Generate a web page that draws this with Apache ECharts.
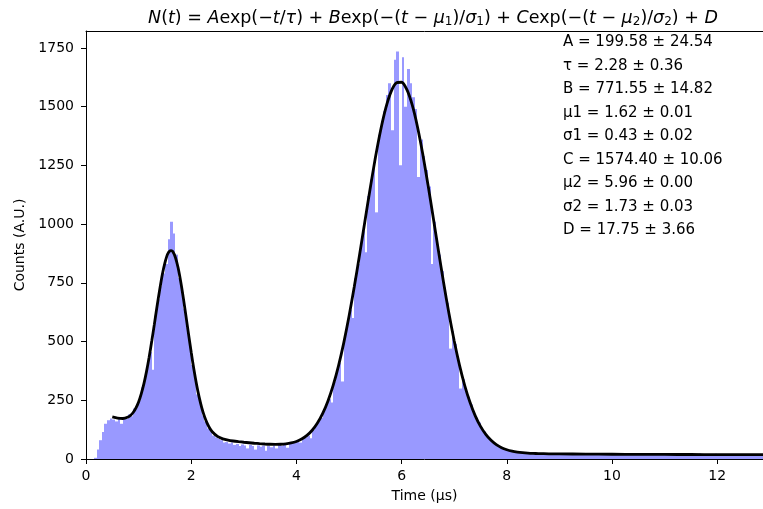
<!DOCTYPE html>
<html>
<head>
<meta charset="utf-8">
<script src="https://cdn.jsdelivr.net/npm/echarts@6/dist/echarts.min.js"></script>
<style>
html,body{margin:0;padding:0;background:#fff;}
#chart{width:763px;height:509px;}
</style>
</head>
<body>
<div id="chart"></div>
<script>
// ---- data ----
const binStart = 0;
const binWidth = 0.05;
const counts = [
0,0,0,5,40,80,115,150,165,172,
168,160,178,150,176,170,190,182,215,235,
250,305,340,395,455,380,610,680,735,790,
830,935,1010,960,870,770,720,640,560,480,
400,350,275,240,185,160,130,118,100,92,
85,80,70,72,66,70,60,64,55,62,
58,45,60,55,40,58,52,57,35,55,
50,58,45,60,55,62,48,66,70,68,
75,70,85,92,100,88,125,140,160,175,
200,230,255,240,330,370,410,330,515,575,
635,600,770,830,905,970,880,1120,1190,1250,
1050,1380,1440,1480,1550,1600,1400,1700,1735,1250,
1710,1500,1660,1600,1540,1490,1200,1360,1290,1230,
1160,830,1010,940,870,800,730,665,470,545,
490,435,300,340,300,265,232,200,176,155,
135,117,100,88,77,68,60,52,47,43,
38,36,32,30,28,27,26,24,25,23,
22,24,21,23,25,20,22,26,21,22,
21,23,20,22,19,24,21,20,22,21,
20,22,25,19,21,20,23,18,21,20,
21,19,22,20,26,20,19,21,18,20,
20,22,19,21,18,20,24,19,20,21,
19,20,18,21,19,22,18,20,19,21,
18,20,19,23,18,19,20,17,19,22,
19,18,20,18,21,19,17,20,18,19,
18,20,17,19,21,18,19,18
];
const fitT = [0.5,0.6,0.7,0.8,0.85,0.9,0.95,1.0,1.05,1.1,1.15,1.2,1.25,1.3,1.35,1.4,1.45,1.5,1.55,1.6,1.62,1.65,1.7,1.75,1.8,1.85,1.9,1.95,2.0,2.05,2.1,2.15,2.2,2.25,2.3,2.35,2.4,2.5,2.6,2.7,2.8,2.9,3.0,
3.1,3.2,3.3,3.4,3.5,3.6,3.7,3.8,3.9,4.0,4.1,4.2,4.3,4.4,4.5,4.6,4.7,4.8,4.9,5.0,5.1,5.2,5.3,5.4,5.5,5.6,5.7,5.8,5.9,6.0,
6.1,6.2,6.3,6.4,6.5,6.6,6.7,6.8,6.9,7.0,7.1,7.2,7.3,7.4,7.5,7.6,7.7,7.8,7.9,8.0,8.1,8.2,8.3,8.4,8.5,8.6,8.8,9.0,9.5,10,10.5,11,11.5,12,12.5,12.9];
const fitN = [179.0,174.0,172.5,178.6,186.5,198.9,217.4,242.9,277.4,319.8,371.9,432.9,502.0,574.1,649.2,719.7,784.8,835.0,871.7,886.6,887.0,882.9,857.8,815.0,756.0,686.0,609.4,530.7,454.2,382.8,319.1,264.4,218.9,182.4,153.9,132.2,116.2,96.2,85.9,80.3,76.6,73.8,71.3,
69.2,67.1,65.3,63.8,62.7,62.2,62.7,64.4,68.2,74.6,84.9,100.3,122.4,153.0,193.9,247.1,314.3,396.5,494.4,607.2,732.9,868.4,1009.0,1148.7,1281.1,1398.7,1494.9,1563.8,1600.9,1603.8,
1572.2,1508.1,1415.6,1300.2,1169.0,1028.9,886.8,748.3,619.0,502.1,399.7,312.8,241.3,183.8,138.9,104.9,79.6,61.3,48.3,39.4,33.4,29.4,26.7,24.9,23.8,23.1,22.2,21.7,20.9,20.3,19.8,19.4,19.1,18.8,18.6,18.4];
const xTicks = [0,2,4,6,8,10,12];
const yTicks = [0,250,500,750,1000,1250,1500,1750];
const fitLines = [
  'A = 199.58 \u00b1 24.54',
  '\u03c4 = 2.28 \u00b1 0.36',
  'B = 771.55 \u00b1 14.82',
  '\u03bc1 = 1.62 \u00b1 0.01',
  '\u03c31 = 0.43 \u00b1 0.02',
  'C = 1574.40 \u00b1 10.06',
  '\u03bc2 = 5.96 \u00b1 0.00',
  '\u03c32 = 1.73 \u00b1 0.03',
  'D = 17.75 \u00b1 3.66'
];
const xMax = 12.87, yMax = 1822;

// ---- chart ----
const FONT = 'DejaVu Sans';
const chart = echarts.init(document.getElementById('chart'), null, {renderer:'canvas'});
const histData = counts.map((c,i)=>[binStart+i*binWidth, binStart+(i+1)*binWidth, c]);
const fitData = fitT.map((t,i)=>[t, fitN[i]]);

const option = {
  animation:false,
  backgroundColor:'#ffffff',
  title:{
    text:'{i|N}({i|t}) = {i|A}exp(\u2212{i|t}/{i|\u03c4}) + {i|B}exp(\u2212({i|t} \u2212 {i|\u03bc}{s|1})/{i|\u03c3}{s|1}) + {i|C}exp(\u2212({i|t} \u2212 {i|\u03bc}{s|2})/{i|\u03c3}{s|2}) + {i|D}',
    left:428, top:3, textAlign:'center',
    textStyle:{fontFamily:FONT, fontSize:17.5, fontWeight:'normal', color:'#000',
      rich:{
        i:{fontFamily:FONT, fontStyle:'italic', fontSize:17.5, color:'#000'},
        s:{fontFamily:FONT, fontSize:12, color:'#000', padding:[8,0,0,0]}
      }}
  },
  grid:{left:86, right:0, top:31, bottom:50, show:false},
  xAxis:[{
    type:'value', min:0, max:xMax,
    name:'Time (\u03bcs)', nameLocation:'middle', nameGap:30,
    nameTextStyle:{fontFamily:FONT, fontSize:14, color:'#000'},
    axisLine:{show:true, onZero:false, lineStyle:{color:'#000', width:1}},
    axisTick:{show:true, length:5, inside:false, customValues:xTicks, lineStyle:{color:'#000'}},
    axisLabel:{customValues:xTicks, margin:10, fontFamily:FONT, fontSize:14, color:'#000', formatter:v=>String(v)},
    splitLine:{show:false}
  },{
    type:'value', min:0, max:xMax, position:'top',
    axisLine:{show:true, onZero:false, lineStyle:{color:'#000', width:1}},
    axisTick:{show:false}, axisLabel:{show:false}, splitLine:{show:false}
  }],
  yAxis:{
    type:'value', min:0, max:yMax,
    name:'Counts (A.U.)', nameLocation:'middle', nameGap:59, nameRotate:90,
    nameTextStyle:{fontFamily:FONT, fontSize:14, color:'#000'},
    axisLine:{show:true, onZero:false, lineStyle:{color:'#000', width:1}},
    axisTick:{show:true, length:5, inside:false, customValues:yTicks, lineStyle:{color:'#000'}},
    axisLabel:{customValues:yTicks, margin:12, fontFamily:FONT, fontSize:14, color:'#000', formatter:v=>String(v)},
    splitLine:{show:false}
  },
  series:[
    {
      type:'custom',
      data:histData,
      encode:{x:[0,1], y:2},
      clip:true,
      renderItem:function(params, api){
        const p0 = api.coord([api.value(0), api.value(2)]);
        const p1 = api.coord([api.value(1), 0]);
        const x0 = Math.round(p0[0]), x1 = Math.round(p1[0]);
        return {type:'rect', shape:{x:x0, y:p0[1], width:Math.max(1,x1-x0), height:p1[1]-p0[1]},
          style:{fill:'#9999ff'}};
      },
      z:1
    },
    {
      type:'line',
      data:fitData,
      smooth:0.25,
      showSymbol:false,
      lineStyle:{color:'#000', width:2.8},
      z:3
    }
  ],
  graphic: fitLines.map((s,i)=>({
    type:'text', left:563, top:35 + i*23.5,
    style:{text:s, font:'15px "DejaVu Sans"', fill:'#000'}
  }))
};
chart.setOption(option);
</script>
</body>
</html>
